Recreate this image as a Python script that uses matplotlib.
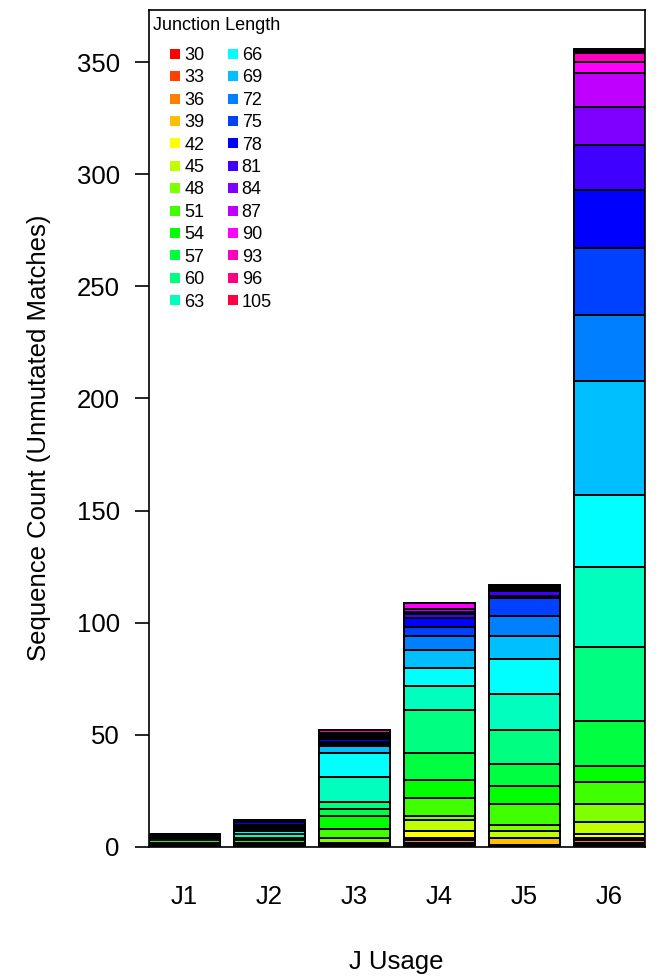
import colorsys
import numpy as np
import matplotlib
matplotlib.use("Agg")
import matplotlib.pyplot as plt
from matplotlib.lines import Line2D

plt.rcParams['font.family'] = ['Liberation Sans', 'DejaVu Sans']

# ---- data ----
j_genes = ["J1", "J2", "J3", "J4", "J5", "J6"]
junction_lengths = [30, 33, 36, 39, 42, 45, 48, 51, 54, 57, 60, 63,
                    66, 69, 72, 75, 78, 81, 84, 87, 90, 93, 96, 105]
#            30 33 36 39 42 45 48 51 54 57 60 63 66 69 72 75 78 81 84 87 90 93 96 105
j1_counts = [0, 0, 0, 0, 0, 0, 0, 1, 1, 1, 1, 1, 1, 0, 0, 0, 0, 0, 0, 0, 0, 0, 0, 0]
j2_counts = [0, 0, 0, 0, 0, 0, 1, 0, 1, 1, 1, 2, 1, 1, 1, 1, 1, 0, 1, 0, 0, 0, 0, 0]
j3_counts = [0, 0, 0, 0, 1, 1, 2, 4, 6, 3, 3, 11, 11, 3, 1, 1, 1, 1, 1, 1, 0, 1, 0, 0]
j4_counts = [1, 1, 1, 1, 3, 5, 2, 8, 8, 12, 19, 11, 8, 8, 6, 4, 4, 2, 1, 1, 3, 0, 0, 0]
j5_counts = [1, 0, 0, 3, 0, 3, 3, 9, 8, 10, 15, 16, 16, 10, 9, 8, 1, 2, 1, 1, 1, 0, 0, 0]
j6_counts = [1, 1, 1, 1, 2, 5, 8, 10, 7, 20, 33, 36, 32, 51, 29, 30, 26, 20, 17, 15, 5, 4, 1, 1]
y_ticks = [0, 50, 100, 150, 200, 250, 300, 350]

counts = np.array([j1_counts, j2_counts, j3_counts, j4_counts, j5_counts, j6_counts], dtype=float)

# R rainbow(n) palette
n = len(junction_lengths)
colors = [colorsys.hsv_to_rgb(i / n, 1.0, 1.0) for i in range(n)]

W, H = 658, 977
fig = plt.figure(figsize=(W / 100, H / 100), dpi=100)
ax = fig.add_axes([149 / W, 130 / H, 496 / W, 837 / H])

lw = 1.4
x = 0.7 + 1.2 * np.arange(len(j_genes))
bottom = np.zeros(len(j_genes))
for k, c in enumerate(colors):
    h = counts[:, k]
    ax.bar(x, h, width=1.0, bottom=bottom, color=c, edgecolor='black', linewidth=lw)
    bottom += h

ax.set_xlim(0.2, 7.2)
ax.set_ylim(0, 373.2)
ax.set_yticks(y_ticks)
ax.set_xticks(x)
ax.set_xticklabels(j_genes)
ax.tick_params(axis='y', length=10, width=1.2, pad=11, labelsize=18.5, direction='out')
ax.tick_params(axis='x', length=0, pad=27, labelsize=18.5)
for s in ax.spines.values():
    s.set_linewidth(1.2)

# legend
handles = [Line2D([], [], marker='s', linestyle='', color=c, markersize=6.8, markeredgewidth=0)
           for c in colors]
labels = [str(v) for v in junction_lengths]
ax.legend(handles, labels, ncol=2, loc='upper left',
          bbox_to_anchor=((170 - 149) / 496, 1 - (47 - 10) / 837),
          frameon=False, fontsize=13, handlelength=0.6, handletextpad=0.2,
          columnspacing=1.25, labelspacing=0.3, borderpad=0, borderaxespad=0)
ax.text((153 - 149) / 496, 1 - (26 - 10) / 837, "Junction Length", transform=ax.transAxes,
        ha='left', va='center', fontsize=13)

fig.text(39 / W, 1 - 437.5 / H, "Sequence Count (Unmutated Matches)", rotation=90,
         ha='center', va='center', fontsize=18.5)
fig.text(396.5 / W, 1 - 962 / H, "J Usage", ha='center', va='center', fontsize=18.5)

fig.savefig("out.png", dpi=100)
